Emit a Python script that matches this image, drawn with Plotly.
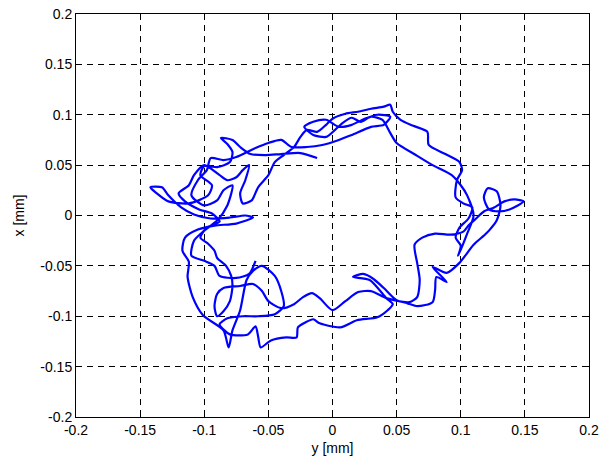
import plotly.graph_objects as go

# trajectory: horizontal = y [mm], vertical = x [mm]
traj_y = [
    -0.012, -0.025, -0.040, -0.052, -0.064, -0.072, -0.078, -0.087, -0.082, -0.078,
    -0.080, -0.090, -0.100, -0.103, -0.094, -0.097, -0.112, -0.128, -0.137, -0.142,
    -0.133, -0.128, -0.118, -0.108, -0.095, -0.080, -0.068, -0.062, -0.075, -0.092,
    -0.105, -0.115, -0.117, -0.112, -0.113, -0.109, -0.101, -0.085, -0.081, -0.078,
    -0.072, -0.067, -0.062, -0.055, -0.045, -0.040, -0.038, -0.045, -0.058, -0.070,
    -0.082, -0.088, -0.080, -0.066, -0.060, -0.058, -0.056, -0.048, -0.036, -0.028,
    -0.027, -0.021, -0.015, -0.010, 0.006, 0.019, 0.035, 0.043, 0.047, 0.042,
    0.029, 0.016, 0.024, 0.032, 0.040, 0.050, 0.060, 0.066, 0.068, 0.066,
    0.064, 0.070, 0.080, 0.092, 0.102, 0.106, 0.112, 0.118, 0.126, 0.134,
    0.142, 0.149, 0.138, 0.130, 0.122, 0.118, 0.121, 0.128, 0.131, 0.128,
    0.122, 0.118, 0.110, 0.099, 0.089, 0.078, 0.089, 0.081, 0.080, 0.078,
    0.066, 0.058, 0.042, 0.030, 0.020, 0.010, 0.000, -0.010, -0.016, -0.023,
    -0.030, -0.040, -0.050, -0.055, -0.062, -0.072, -0.085, -0.090, -0.092, -0.090,
    -0.085, -0.080, -0.078, -0.079, -0.083, -0.090, -0.092, -0.097, -0.103, -0.098,
    -0.088, -0.094, -0.104, -0.115, -0.120, -0.112, -0.108, -0.100, -0.088, -0.082,
    -0.075, -0.070, -0.065, -0.068, -0.072, -0.070, -0.063, -0.058, -0.050, -0.045,
    -0.038, -0.030, -0.025, -0.020, -0.012, -0.005, 0.000, 0.010, 0.020, 0.030,
    0.040, 0.045, 0.047, 0.053, 0.063, 0.074, 0.075, 0.088, 0.099, 0.101,
    0.097, 0.096, 0.102, 0.109, 0.106, 0.099, 0.096, 0.100, 0.098, 0.105,
    0.110, 0.105, 0.100, 0.093, 0.078, 0.065, 0.050, 0.045, 0.039, 0.030,
    0.022, 0.015, 0.008, 0.002, -0.005, -0.015, -0.022, -0.015, -0.005, 0.005,
    0.015, 0.025, 0.035, 0.045, 0.040, 0.030, 0.015, 0.005, -0.008, -0.020,
    -0.032, -0.040, -0.050, -0.060, -0.075, -0.085, -0.095, -0.098, -0.105, -0.110,
    -0.100, -0.090, -0.085, -0.078, -0.082, -0.090, -0.100, -0.108, -0.110, -0.100,
    -0.092, -0.088, -0.075, -0.065, -0.060,
]
traj_x = [
    0.057, 0.062, 0.061, 0.060, 0.061, 0.068, 0.075, 0.077, 0.071, 0.063,
    0.053, 0.048, 0.049, 0.040, 0.030, 0.020, 0.012, 0.014, 0.022, 0.028,
    0.028, 0.020, 0.008, 0.001, -0.003, -0.002, 0.000, -0.002, -0.008, -0.010,
    -0.014, -0.022, -0.035, -0.046, -0.061, -0.081, -0.099, -0.114, -0.131, -0.114,
    -0.094, -0.064, -0.055, -0.050, -0.060, -0.075, -0.090, -0.098, -0.100, -0.100,
    -0.102, -0.108, -0.118, -0.118, -0.110, -0.120, -0.131, -0.124, -0.121, -0.121,
    -0.111, -0.106, -0.103, -0.107, -0.111, -0.104, -0.101, -0.094, -0.088, -0.082,
    -0.064, -0.061, -0.058, -0.063, -0.072, -0.084, -0.086, -0.081, -0.064, -0.047,
    -0.029, -0.022, -0.018, -0.019, -0.016, -0.010, -0.003, 0.004, 0.008, 0.014,
    0.016, 0.014, 0.006, 0.004, 0.006, 0.018, 0.027, 0.024, 0.010, -0.005,
    -0.015, -0.020, -0.029, -0.047, -0.057, -0.051, -0.066, -0.061, -0.074, -0.086,
    -0.090, -0.087, -0.082, -0.075, -0.076, -0.085, -0.094, -0.082, -0.077, -0.081,
    -0.088, -0.092, -0.085, -0.075, -0.068, -0.070, -0.072, -0.078, -0.090, -0.100,
    -0.095, -0.085, -0.070, -0.060, -0.050, -0.042, -0.035, -0.028, -0.022, -0.012,
    -0.006, 0.002, 0.006, 0.014, 0.022, 0.030, 0.040, 0.050, 0.040, 0.035,
    0.038, 0.045, 0.050, 0.035, 0.022, 0.012, 0.015, 0.028, 0.040, 0.053,
    0.060, 0.068, 0.078, 0.085, 0.083, 0.090, 0.096, 0.101, 0.103, 0.106,
    0.108, 0.110, 0.103, 0.095, 0.089, 0.083, 0.070, 0.061, 0.053, 0.045,
    0.035, 0.018, 0.012, 0.008, -0.003, -0.012, -0.022, -0.030, -0.040, -0.018,
    0.000, 0.020, 0.030, 0.040, 0.050, 0.060, 0.072, 0.082, 0.095, 0.098,
    0.093, 0.097, 0.092, 0.085, 0.078, 0.080, 0.088, 0.093, 0.095, 0.088,
    0.090, 0.096, 0.100, 0.098, 0.090, 0.088, 0.080, 0.075, 0.070, 0.068,
    0.068, 0.075, 0.072, 0.067, 0.058, 0.055, 0.057, 0.045, 0.035, 0.020,
    0.010, 0.015, 0.025, 0.030, 0.010, -0.005, -0.015, -0.025, -0.040, -0.045,
    -0.050, -0.060, -0.062, -0.058, -0.045,
]

tick_vals = [-0.2, -0.15, -0.1, -0.05, 0, 0.05, 0.1, 0.15, 0.2]
tick_text = ["-0.2", "-0.15", "-0.1", "-0.05", "0", "0.05", "0.1", "0.15", "0.2"]

FONT = "Liberation Sans, Arial, Helvetica"

fig = go.Figure()
fig.add_trace(go.Scatter(x=traj_y, y=traj_x, mode="lines",
                         line=dict(color="#0000ff", width=2.2, shape="spline", smoothing=0.7),
                         showlegend=False))

axis_common = dict(
    range=[-0.2, 0.2], tickvals=tick_vals, ticktext=tick_text,
    showgrid=True, gridcolor="#000000", gridwidth=1, griddash="6px,5px",
    zeroline=False, showline=True, linecolor="#000000", linewidth=1,
    mirror="ticks", ticks="inside", ticklen=5, tickcolor="#000000",
    tickfont=dict(family=FONT, size=14, color="#000000"),
    automargin=False,
)
fig.update_xaxes(**axis_common, title=dict(text="y [mm]", standoff=6,
                 font=dict(family=FONT, size=14, color="#000000")))
fig.update_yaxes(**axis_common, title=dict(text="x [mm]", standoff=12,
                 font=dict(family=FONT, size=14, color="#000000")))
fig.update_layout(
    width=610, height=463,
    margin=dict(l=76, r=21, t=14, b=46),
    paper_bgcolor="#ffffff", plot_bgcolor="#ffffff",
)
fig.write_html("out.html")
